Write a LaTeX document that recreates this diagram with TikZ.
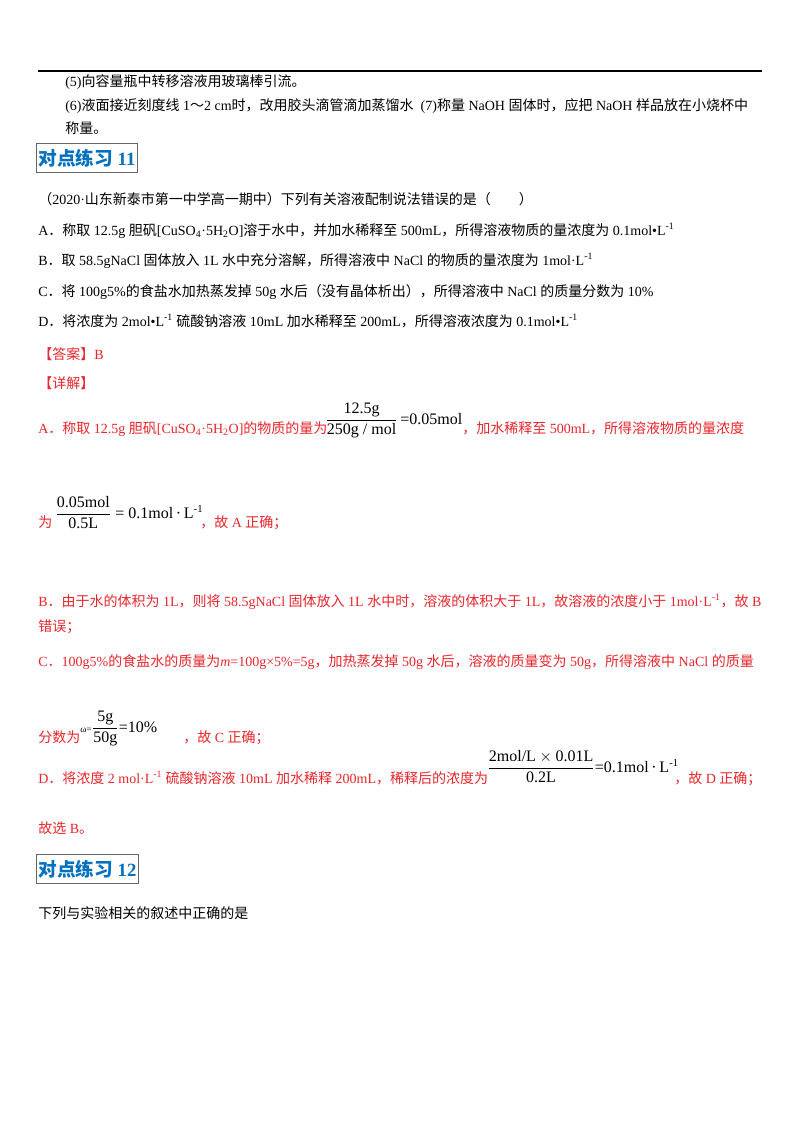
\documentclass[tikz,border=0pt]{standalone}
\usepackage{fontspec}
\usepackage{amsmath}
\setmainfont{Liberation Serif}
\newfontfamily\cjk{Noto Sans CJK SC}
\newXeTeXintercharclass\cjkcls
\newcount\mycnt
\mycnt="4E00 \loop \XeTeXcharclass\mycnt=\cjkcls \advance\mycnt 1 \ifnum\mycnt<"A000 \repeat
\mycnt="3000 \loop \XeTeXcharclass\mycnt=\cjkcls \advance\mycnt 1 \ifnum\mycnt<"3040 \repeat
\mycnt="FF00 \loop \XeTeXcharclass\mycnt=\cjkcls \advance\mycnt 1 \ifnum\mycnt<"FF60 \repeat
\XeTeXinterchartoks 0 \cjkcls = {\begingroup\cjk}
\XeTeXinterchartoks 4095 \cjkcls = {\begingroup\cjk}
\XeTeXinterchartoks \cjkcls 0 = {\endgroup}
\XeTeXinterchartoks \cjkcls 4095 = {\endgroup}
\XeTeXinterchartokenstate=1
\definecolor{myred}{RGB}{232,38,43}
\definecolor{myblue}{RGB}{0,112,192}
\begin{document}
\begin{tikzpicture}[x=0.75pt,y=-0.75pt,
  t/.style={anchor=base west,inner sep=0pt,font=\fontsize{10.5}{12}\selectfont},
  r/.style={t,text=myred},
  fr/.style={anchor=base west,inner sep=0pt,font=\fontsize{12}{13}\selectfont},
  hd/.style={draw=black!60,line width=0.6pt,inner xsep=1.5pt,inner ysep=4pt,anchor=west,text=myblue,font=\fontsize{14}{15}\selectfont\bfseries}]
\useasboundingbox (0,0) rectangle (800,1132);
\fill[white] (0,0) rectangle (800,1132);
\draw[line width=0.8pt] (38,71) -- (762,71);
\node[t] (l1) at (65,86) {(5)向容量瓶中转移溶液用玻璃棒引流。};
\node[t] (l2) at (65,110) {(6)液面接近刻度线 1～2 cm时，改用胶头滴管滴加蒸馏水\ \ (7)称量 NaOH 固体时，应把 NaOH 样品放在小烧杯中};
\node[t] (l3) at (65,133) {称量。};
\node[hd] (h1) at (36,158) {对点练习 11};
\node[t] (q) at (38,204) {（2020·山东新泰市第一中学高一期中）下列有关溶液配制说法错误的是（\qquad）};
\node[t] (a) at (38,235) {A．称取 12.5g 胆矾[CuSO\textsubscript{4}·5H\textsubscript{2}O]溶于水中，并加水稀释至 500mL，所得溶液物质的量浓度为 0.1mol•L\textsuperscript{-1}};
\node[t] (b) at (38,265) {B．取 58.5gNaCl 固体放入 1L 水中充分溶解，所得溶液中 NaCl 的物质的量浓度为 1mol·L\textsuperscript{-1}};
\node[t] (c) at (38,296) {C．将 100g5\%的食盐水加热蒸发掉 50g 水后（没有晶体析出），所得溶液中 NaCl 的质量分数为 10\%};
\node[t] (d) at (38,326) {D．将浓度为 2mol•L\textsuperscript{-1} 硫酸钠溶液 10mL 加水稀释至 200mL，所得溶液浓度为 0.1mol•L\textsuperscript{-1}};
\node[r] (ans) at (38,359) {【答案】B};
\node[r] (xj) at (38,388) {【详解】};
\node[r] (ra) at (38,433) {A．称取 12.5g 胆矾[CuSO\textsubscript{4}·5H\textsubscript{2}O]的物质的量为};
\node[fr] (fa) at (325,424) {$\dfrac{\text{12.5g}}{\text{250g / mol}}$\,=0.05mol};
\node[r] (ra2) at (462,433) {，加水稀释至 500mL，所得溶液物质的量浓度};
\node[r] (rw) at (38,527) {为};
\node[fr] (fb) at (55,518) {$\dfrac{\text{0.05mol}}{\text{0.5L}}$ = 0.1mol\,·\,L\textsuperscript{-1}};
\node[r] (rw2) at (200,527) {，故 A 正确；};
\node[r] (rb) at (38,606) {B．由于水的体积为 1L，则将 58.5gNaCl 固体放入 1L 水中时，溶液的体积大于 1L，故溶液的浓度小于 1mol·L\textsuperscript{-1}，故 B};
\node[r] (rb2) at (38,631) {错误；};
\node[r] (rc) at (38,666) {C．100g5\%的食盐水的质量为\textit{m}=100g×5\%=5g，加热蒸发掉 50g 水后，溶液的质量变为 50g，所得溶液中 NaCl 的质量};
\node[r] (rc2) at (38,742) {分数为};
\node[fr] (fc) at (80,732) {{\fontsize{7}{8}\selectfont ω=}$\dfrac{\text{5g}}{\text{50g}}$=10\%};
\node[r] (rc3) at (183,742) {，故 C 正确；};
\node[r] (rd) at (38,783) {D．将浓度 2 mol·L\textsuperscript{-1} 硫酸钠溶液 10mL 加水稀释 200mL，稀释后的浓度为};
\node[fr] (fd) at (487,772) {$\dfrac{\text{2mol/L}\times\text{0.01L}}{\text{0.2L}}$=0.1mol\,·\,L\textsuperscript{-1}};
\node[r] (rd2) at (674,783) {，故 D 正确；};
\node[r] (gx) at (38,833) {故选 B。};
\node[hd] (h2) at (36,869) {对点练习 12};
\node[t] (q2) at (38,918) {下列与实验相关的叙述中正确的是};
\end{tikzpicture}
\end{document}
